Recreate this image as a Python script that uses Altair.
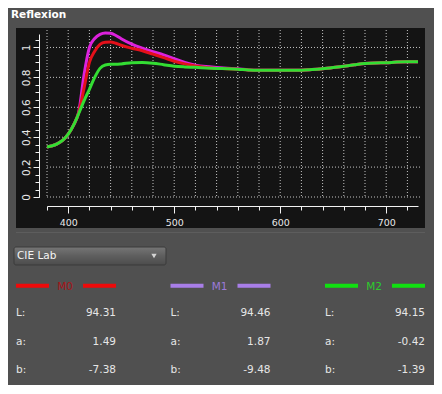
import altair as alt
import pandas as pd

# ---------------- data ----------------
wavelengths = [380, 385, 390, 395, 400, 405, 410, 415, 420, 425, 430, 435, 440, 445, 450,
               460, 470, 480, 490, 500, 510, 520, 530, 540, 550, 560, 570, 580, 590, 600,
               610, 620, 630, 640, 650, 660, 670, 680, 690, 700, 710, 720, 730]

m0 = [0.335, 0.343, 0.357, 0.38, 0.42, 0.48, 0.565, 0.73, 0.90, 0.975, 1.02, 1.035, 1.037, 1.028, 1.015,
      0.995, 0.978, 0.955, 0.932, 0.908, 0.89, 0.876, 0.866, 0.86, 0.858, 0.855, 0.85, 0.848, 0.848, 0.848,
      0.848, 0.848, 0.852, 0.858, 0.866, 0.875, 0.884, 0.892, 0.896, 0.898, 0.902, 0.904, 0.904]
m1 = [0.335, 0.343, 0.357, 0.38, 0.42, 0.48, 0.57, 0.82, 1.0, 1.06, 1.088, 1.097, 1.095, 1.08, 1.058,
      1.022, 0.995, 0.972, 0.95, 0.925, 0.9, 0.882, 0.872, 0.866, 0.861, 0.857, 0.85, 0.848, 0.848, 0.848,
      0.848, 0.848, 0.852, 0.858, 0.866, 0.875, 0.884, 0.892, 0.896, 0.898, 0.902, 0.904, 0.904]
m2 = [0.335, 0.343, 0.357, 0.38, 0.42, 0.48, 0.56, 0.645, 0.72, 0.80, 0.86, 0.883, 0.888, 0.888, 0.89,
      0.898, 0.9, 0.895, 0.885, 0.875, 0.87, 0.867, 0.863, 0.86, 0.858, 0.855, 0.85, 0.848, 0.848, 0.848,
      0.848, 0.848, 0.852, 0.858, 0.866, 0.875, 0.884, 0.892, 0.896, 0.898, 0.902, 0.904, 0.904]

series_names = ["M0", "M1", "M2"]
line_colors = ["#e3101a", "#dd22dd", "#33dd33"]
legend_line_colors = ["#ee0a0a", "#a87ee8", "#10e010"]
legend_text_colors = ["#a8141a", "#9c7ad8", "#2ccc2c"]

lab_components = ["L", "a", "b"]
lab_L = [94.31, 94.46, 94.15]
lab_a = [1.49, 1.87, -0.42]
lab_b = [-7.38, -9.48, -1.39]

x_major_ticks = [400, 500, 600, 700]
x_minor_ticks = list(range(380, 721, 20))
y_major_ticks = [0, 0.2, 0.4, 0.6, 0.8, 1.0]
y_minor_ticks = [round(i * 0.05, 2) for i in range(0, 22)]
grid_x = list(range(380, 721, 20))
grid_y = [0, 0.2, 0.4, 0.6, 0.8, 1.0]

panel_title = "Reflexion"
dropdown_text = "CIE Lab"

# ---------------- tables ----------------
rows = []
for name, vals in zip(series_names, [m0, m1, m2]):
    for w, v in zip(wavelengths, vals):
        rows.append({"series": name, "wl": w, "v": v})
line_df = pd.DataFrame(rows)

tab_rows = []
for ci, name in enumerate(series_names):
    for ri, (comp, vals) in enumerate(zip(lab_components, [lab_L, lab_a, lab_b])):
        tab_rows.append({"col": ci, "row": ri, "label": comp + ":", "value": f"{vals[ci]:.2f}"})
tab_df = pd.DataFrame(tab_rows)
leg_df = pd.DataFrame({"col": [0, 1, 2], "series": series_names})
one = pd.DataFrame({"k": [0]})

W, H = 371, 163
FONT = "DejaVu Sans"
xs = alt.Scale(domain=[380, 730], nice=False, zero=False)
ys = alt.Scale(domain=[0, 1.09], nice=False, zero=False)

ax_common = dict(domainColor="#f2f2f2", tickColor="#f2f2f2", domainWidth=1, tickWidth=1,
                 grid=False, zindex=1, labelColor="#e8e8e8", labelFont=FONT)

x_major = alt.Axis(orient="bottom", values=x_major_ticks, tickSize=7, offset=9, labelPadding=4,
                   labelFontSize=9.5, format="d", **ax_common)
x_minor = alt.Axis(orient="bottom", values=x_minor_ticks, tickSize=4, offset=9, labels=False,
                   domain=False, **ax_common)
y_major = alt.Axis(orient="left", values=y_major_ticks, tickSize=6, offset=8, labelPadding=2,
                   labelFontSize=10.5, labelAngle=270, labelAlign="center", labelBaseline="bottom",
                   labelExpr="replace(format(datum.value, '~g'), '.', ',')", **ax_common)
y_minor = alt.Axis(orient="left", values=y_minor_ticks, tickSize=4, offset=8, labels=False,
                   domain=False, **ax_common)

# ---------------- layers ----------------
plot_bg = alt.Chart(one).mark_rect(color="#141414").encode(
    x=alt.value(-31), x2=alt.value(378), y=alt.value(-6), y2=alt.value(194))

separator = alt.Chart(one).mark_rule(color="#5d5d5d", strokeWidth=1).encode(
    x=alt.value(-31), x2=alt.value(378), y=alt.value(198.5))

vgrid = alt.Chart(pd.DataFrame({"g": grid_x})).mark_rule(
    color="#c4c4c4", strokeDash=[1, 2], strokeWidth=1).encode(
    x=alt.X("g:Q", scale=xs, axis=x_minor, title=None),
    y=alt.value(-4), y2=alt.value(H))

hgrid = alt.Chart(pd.DataFrame({"g": grid_y})).mark_rule(
    color="#c4c4c4", strokeDash=[1, 2], strokeWidth=1).encode(
    y=alt.Y("g:Q", scale=ys, axis=y_minor, title=None),
    x=alt.value(0), x2=alt.value(375))


def line_layer(name, color, with_axes):
    return alt.Chart(line_df).transform_filter(alt.datum.series == name).mark_line(
        color=color, strokeWidth=3, interpolate="monotone").encode(
        x=alt.X("wl:Q", scale=xs, axis=x_major if with_axes else None, title=None),
        y=alt.Y("v:Q", scale=ys, axis=y_major if with_axes else None, title=None))


l_m1 = line_layer("M1", line_colors[1], False)
l_m0 = line_layer("M0", line_colors[0], False)
l_m2 = line_layer("M2", line_colors[2], True)

title_txt = alt.Chart(one).mark_text(
    align="left", baseline="alphabetic", font=FONT, fontSize=10.5, fontWeight="bold", color="#ffffff").encode(
    x=alt.value(-36), y=alt.value(-16), text=alt.value(panel_title))

dropdown = alt.Chart(one).mark_rect(
    fill=alt.Gradient(gradient="linear", x1=0, y1=0, x2=0, y2=1,
                      stops=[alt.GradientStop(offset=0, color="#767676"),
                             alt.GradientStop(offset=0.5, color="#5e5e5e"),
                             alt.GradientStop(offset=1, color="#4c4c4c")]),
    stroke="#3a3a3a", strokeWidth=1, cornerRadius=2).encode(
    x=alt.value(-33), x2=alt.value(119), y=alt.value(213), y2=alt.value(231))

dropdown_txt = alt.Chart(one).mark_text(
    align="left", baseline="middle", font=FONT, fontSize=10.5, color="#f4f4f4").encode(
    x=alt.value(-30), y=alt.value(222), text=alt.value(dropdown_text))

dropdown_arrow = alt.Chart(one).mark_point(
    shape="triangle-down", filled=True, size=28, color="#d4d4d4", opacity=1).encode(
    x=alt.value(107), y=alt.value(222))

leg_left = alt.Chart(leg_df).mark_tick(orient="horizontal", size=33, thickness=4, opacity=1).encode(
    x=alt.X("col:Q", scale=alt.Scale(domain=[0, 2], range=[-14.5, 294.5]), axis=None),
    y=alt.value(251.7),
    color=alt.Color("series:N", scale=alt.Scale(domain=series_names, range=legend_line_colors), legend=None))

leg_right = alt.Chart(leg_df).mark_tick(orient="horizontal", size=33, thickness=4, opacity=1).encode(
    x=alt.X("col:Q", scale=alt.Scale(domain=[0, 2], range=[52.5, 361.5]), axis=None),
    y=alt.value(251.7),
    color=alt.Color("series:N", scale=alt.Scale(domain=series_names, range=legend_line_colors), legend=None))

leg_text = alt.Chart(leg_df).mark_text(align="center", baseline="middle", font=FONT, fontSize=10.5).encode(
    x=alt.X("col:Q", scale=alt.Scale(domain=[0, 2], range=[18, 327]), axis=None),
    y=alt.value(252.5),
    text="series:N",
    color=alt.Color("series:N", scale=alt.Scale(domain=series_names, range=legend_text_colors), legend=None))

tab_labels = alt.Chart(tab_df).mark_text(
    align="left", baseline="middle", font=FONT, fontSize=10.5, color="#e6e6e6").encode(
    x=alt.X("col:Q", scale=alt.Scale(domain=[0, 2], range=[-31, 278]), axis=None),
    y=alt.Y("row:Q", scale=alt.Scale(domain=[0, 2], range=[279.3, 336]), axis=None),
    text="label:N")

tab_values = alt.Chart(tab_df).mark_text(
    align="right", baseline="middle", font=FONT, fontSize=10.5, color="#e6e6e6").encode(
    x=alt.X("col:Q", scale=alt.Scale(domain=[0, 2], range=[69, 378]), axis=None),
    y=alt.Y("row:Q", scale=alt.Scale(domain=[0, 2], range=[279.3, 336]), axis=None),
    text="value:N")

chart = alt.layer(
    plot_bg, separator, vgrid, hgrid, l_m1, l_m0, l_m2,
    title_txt, dropdown, dropdown_txt, dropdown_arrow,
    leg_left, leg_right, leg_text, tab_labels, tab_values
).resolve_scale(
    x="independent", y="independent", color="independent"
).properties(
    width=W, height=H,
    background="#505050",
    padding={"left": 39, "top": 26, "right": 16, "bottom": 188},
    autosize=alt.AutoSizeParams(type="none"),
).configure_view(stroke="transparent")

chart.save("out.html", embed_options={"renderer": "svg", "actions": False})
